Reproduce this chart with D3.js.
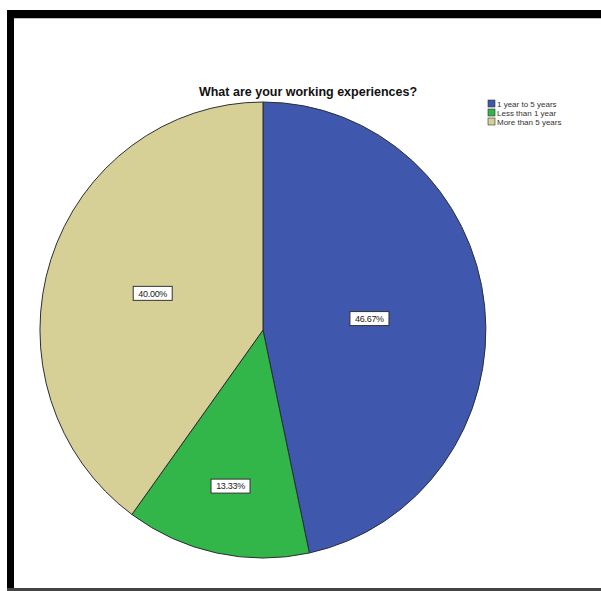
<!DOCTYPE html>
<html>
<head>
<meta charset="utf-8">
<script src="https://cdn.jsdelivr.net/npm/d3@7"></script>
<style>
  html, body { margin: 0; padding: 0; background: #ffffff; }
  svg { display: block; }
</style>
</head>
<body>
<svg id="chart" width="601" height="591"></svg>
<script>
// Working experience of respondents (percent of responses)
const categories = ["1 year to 5 years", "Less than 1 year", "More than 5 years"];
const percents = [46.67, 13.33, 40.00];
const sliceLabels = ["46.67%", "13.33%", "40.00%"];
const colors = ["#3f58ad", "#32b64a", "#d6cf96"];
const title = "What are your working experiences?";

const svg = d3.select("#chart");
const W = 601, H = 591;

// page frame
svg.append("rect").attr("x", 7).attr("y", 10).attr("width", W - 7).attr("height", 8).attr("fill", "#000");
svg.append("rect").attr("x", 7).attr("y", 10).attr("width", 7).attr("height", H - 10).attr("fill", "#000");
svg.append("rect").attr("x", 14).attr("y", 18).attr("width", W - 14).attr("height", 1).attr("fill", "#bdbdbd");
svg.append("rect").attr("x", 7).attr("y", 588).attr("width", W - 7).attr("height", 3).attr("fill", "#444");

// title
svg.append("text")
  .attr("x", 308).attr("y", 96)
  .attr("text-anchor", "middle")
  .attr("font-family", "Liberation Sans, Arial, sans-serif")
  .attr("font-weight", "bold")
  .attr("font-size", 12.5)
  .attr("fill", "#111")
  .text(title);

// pie (drawn as a unit circle then stretched slightly vertically)
const cx = 263, cy = 330, rx = 223, ry = 228;
const pie = d3.pie().sort(null).value(d => d.v);
const data = categories.map((c, i) => ({ c, v: percents[i], label: sliceLabels[i], color: colors[i] }));
const arcs = pie(data);
const arc = d3.arc().innerRadius(0).outerRadius(1);

const g = svg.append("g").attr("transform", `translate(${cx},${cy}) scale(${rx},${ry})`);
g.selectAll("path").data(arcs).join("path")
  .attr("d", arc)
  .attr("fill", d => d.data.color)
  .attr("stroke", "#2a2f33")
  .attr("stroke-width", 1)
  .attr("vector-effect", "non-scaling-stroke");

// value labels placed along each slice's mid-angle
const labelRadius = { "1 year to 5 years": 0.48, "Less than 1 year": 0.70, "More than 5 years": 0.52 };
const labels = svg.append("g");
arcs.forEach(d => {
  const mid = (d.startAngle + d.endAngle) / 2;
  const f = labelRadius[d.data.c];
  const x = cx + Math.sin(mid) * f * rx;
  const y = cy - Math.cos(mid) * f * ry;
  const bw = 39, bh = 14;
  labels.append("rect")
    .attr("x", x - bw / 2).attr("y", y - bh / 2)
    .attr("width", bw).attr("height", bh)
    .attr("fill", "#fff").attr("stroke", "#333").attr("stroke-width", 1);
  labels.append("text")
    .attr("x", x).attr("y", y + 3.3)
    .attr("text-anchor", "middle")
    .attr("font-family", "Liberation Sans, Arial, sans-serif")
    .attr("font-size", 9)
    .attr("fill", "#222")
    .attr("letter-spacing", -0.3)
    .text(d.data.label);
});

// legend
const legend = svg.append("g").attr("transform", "translate(488,100)");
categories.forEach((c, i) => {
  const row = legend.append("g").attr("transform", `translate(0,${i * 9})`);
  row.append("rect").attr("x", 0).attr("y", 0).attr("width", 7).attr("height", 7)
    .attr("fill", colors[i]).attr("stroke", "#333").attr("stroke-width", 0.6);
  row.append("text").attr("x", 9).attr("y", 6.5)
    .attr("font-family", "Liberation Sans, Arial, sans-serif")
    .attr("font-size", 8).attr("fill", "#333")
    .text(c);
});
</script>
</body>
</html>
